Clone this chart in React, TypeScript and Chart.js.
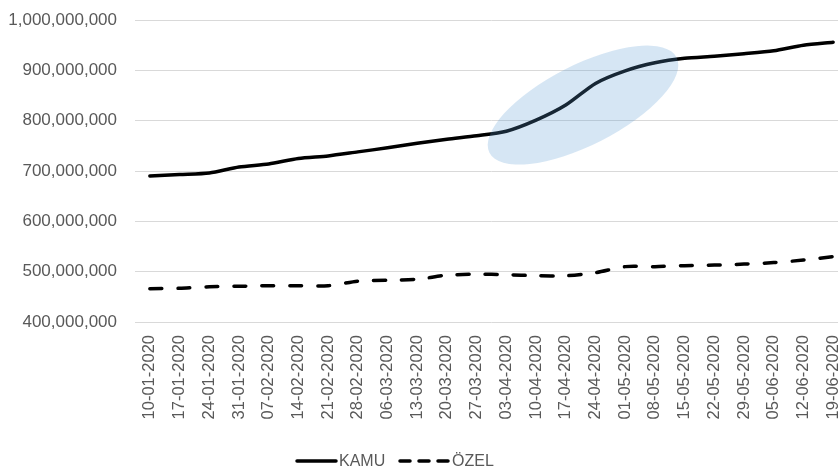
import React, { useEffect, useRef } from "react";
import { Chart, registerables } from "chart.js";

Chart.register(...registerables);

const categories: string[] = [
  "10-01-2020", "17-01-2020", "24-01-2020", "31-01-2020", "07-02-2020", "14-02-2020",
  "21-02-2020", "28-02-2020", "06-03-2020", "13-03-2020", "20-03-2020", "27-03-2020",
  "03-04-2020", "10-04-2020", "17-04-2020", "24-04-2020", "01-05-2020", "08-05-2020",
  "15-05-2020", "22-05-2020", "29-05-2020", "05-06-2020", "12-06-2020", "19-06-2020",
];

// values in millions
const kamuMillions: number[] = [
  690, 693, 696, 708, 714, 725, 730, 738, 746, 755, 763, 770,
  779, 801, 831, 874, 899, 915, 924, 928, 933, 939, 950, 956,
];
const ozelMillions: number[] = [
  466, 467, 470, 471, 472, 472, 472, 481, 483, 485, 493, 495,
  494, 492, 492, 498, 510, 510, 512, 513, 515, 518, 523, 530,
];

const seriesNames: string[] = ["KAMU", "ÖZEL"];

const yMin = 400000000;
const yMax = 1000000000;
const yStep = 100000000;

// highlighted region (category index, value)
const highlightIndex = 14.58;
const highlightValue = 831000000;

const FONT = "'Liberation Sans', Arial, sans-serif";
const TEXT = "#595959";

const highlightPlugin = {
  id: "highlightEllipse",
  afterDatasetsDraw(chart: any) {
    const { ctx, scales } = chart;
    const cx = scales.x.getPixelForValue(highlightIndex);
    const cy = scales.y.getPixelForValue(highlightValue);
    ctx.save();
    ctx.beginPath();
    ctx.ellipse(cx, cy, 105, 40, (-27 * Math.PI) / 180, 0, Math.PI * 2);
    ctx.fillStyle = "rgba(91,155,213,0.25)";
    ctx.fill();
    ctx.restore();
  },
};

// Legend drawn below the axis, keys next to text like the Excel legend
const customLegend = {
  id: "customLegend",
  afterDraw(chart: any) {
    const { ctx } = chart;
    const y = 461;
    const items = [
      { x0: 297, x1: 336, ds: chart.data.datasets[0], dash: [] as number[] },
      { x0: 400, x1: 449, ds: chart.data.datasets[1], dash: [10, 9] },
    ];
    ctx.save();
    ctx.font = `16px ${FONT}`;
    ctx.textBaseline = "middle";
    ctx.textAlign = "left";
    for (const it of items) {
      ctx.beginPath();
      ctx.setLineDash(it.dash);
      ctx.lineCap = it.ds.borderCapStyle || "butt";
      ctx.lineWidth = it.ds.borderWidth;
      ctx.strokeStyle = it.ds.borderColor;
      ctx.moveTo(it.x0, y);
      ctx.lineTo(it.x1, y);
      ctx.stroke();
      ctx.setLineDash([]);
      ctx.fillStyle = TEXT;
      ctx.fillText(it.ds.label, it.x1 + 3, y + 1);
    }
    ctx.restore();
  },
};

const whiteBg = {
  id: "whiteBg",
  beforeDraw(chart: any) {
    const { ctx, width, height } = chart;
    ctx.save();
    ctx.fillStyle = "#ffffff";
    ctx.fillRect(0, 0, width, height);
    ctx.restore();
  },
};

export default function App() {
  const ref = useRef<HTMLCanvasElement | null>(null);

  useEffect(() => {
    if (!ref.current) return;
    const chart = new Chart(ref.current, {
      type: "line",
      data: {
        labels: categories,
        datasets: [
          {
            label: seriesNames[0],
            data: kamuMillions.map((v) => v * 1000000),
            borderColor: "#000000",
            backgroundColor: "#000000",
            borderWidth: 3.5,
            borderCapStyle: "round",
            pointRadius: 0,
            tension: 0.25,
          },
          {
            label: seriesNames[1],
            data: ozelMillions.map((v) => v * 1000000),
            borderColor: "#000000",
            backgroundColor: "#000000",
            borderWidth: 3.5,
            borderDash: [12, 16],
            borderCapStyle: "round",
            pointRadius: 0,
            tension: 0.25,
          },
        ],
      },
      options: {
        responsive: false,
        animation: false,
        layout: { padding: { top: 20, right: 2, left: 0, bottom: 40 } },
        plugins: {
          legend: { display: false },
          tooltip: { enabled: false },
        },
        scales: {
          x: {
            offset: true,
            grid: { display: false, drawTicks: false },
            border: { display: false },
            ticks: {
              autoSkip: false,
              maxRotation: 90,
              minRotation: 90,
              color: TEXT,
              font: { family: FONT, size: 16.5 },
              padding: 13,
            },
            afterFit(scale: any) {
              scale.height = 110;
              scale.paddingLeft = 0;
              scale.paddingRight = 0;
            },
          },
          y: {
            min: yMin,
            max: yMax,
            grid: { color: "#d9d9d9", lineWidth: 1, drawTicks: false },
            border: { display: false },
            ticks: {
              stepSize: yStep,
              color: TEXT,
              font: { family: FONT, size: 17 },
              padding: 18,
              callback: (v: any) => Number(v).toLocaleString("en-US"),
            },
            afterFit(scale: any) {
              scale.width = 135;
              scale.paddingTop = 0;
              scale.paddingBottom = 0;
            },
          },
        },
      },
      plugins: [whiteBg, highlightPlugin, customLegend],
    });
    return () => chart.destroy();
  }, []);

  return (
    <div
      style={{
        position: "fixed",
        left: 0,
        top: 0,
        width: 838,
        height: 472,
        overflow: "hidden",
        background: "#fff",
      }}
    >
      <canvas ref={ref} width={850} height={472} style={{ display: "block" }} />
    </div>
  );
}
